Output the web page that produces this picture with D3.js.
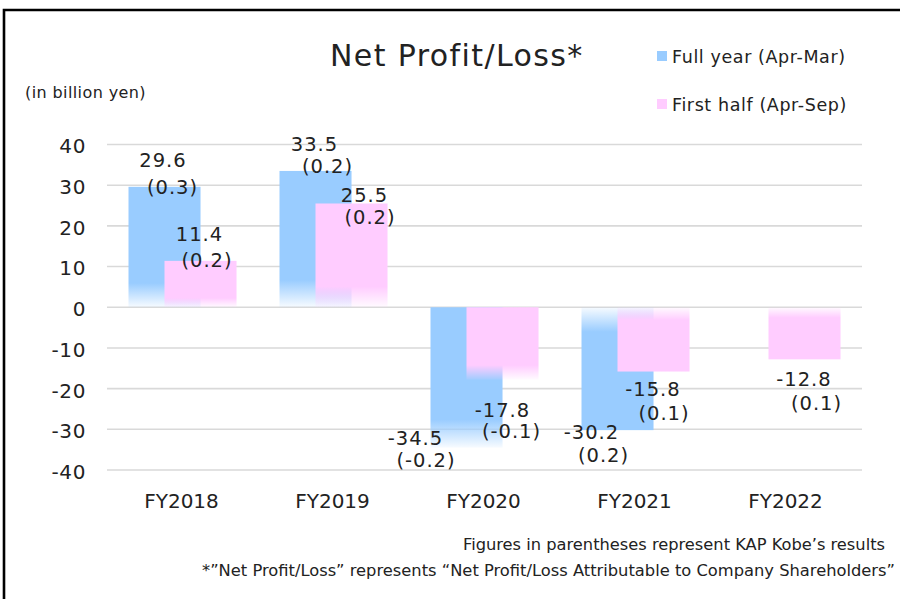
<!DOCTYPE html>
<html>
<head>
<meta charset="utf-8">
<script src="https://cdn.jsdelivr.net/npm/d3@7"></script>
<style>
  html, body { margin: 0; padding: 0; background: #fff; }
  svg { display: block; }
  text { font-family: "DejaVu Sans", Verdana, sans-serif; fill: #222; }
</style>
</head>
<body>
<svg id="chart" width="900" height="599"></svg>
<script>
// ---- data ----
const categories = ["FY2018", "FY2019", "FY2020", "FY2021", "FY2022"];
const fullYear = [29.6, 33.5, -34.5, -30.2, null];
const firstHalf = [11.4, 25.5, -17.8, -15.8, -12.8];
const fullYearKobe = [0.3, 0.2, -0.2, 0.2, null];
const firstHalfKobe = [0.2, 0.2, -0.1, 0.1, 0.1];
const yTicks = [-40, -30, -20, -10, 0, 10, 20, 30, 40];
const seriesNames = ["Full year (Apr-Mar)", "First half (Apr-Sep)"];

// ---- styling / layout (kept separate from data) ----
const colors = ["#99CCFF", "#FFCCFF"];
const fadeSide = ["bottom", "bottom", "bottom", "top", "top"];
// manual label nudges: [dx1, dy1, dx2, dy2] relative to bar centre / bar end (px)
const labelNudgeFull = [[-1.5, -20, 8, 7], [-1, -20, 12, 2], [-51, -3, -40.5, 19.5], [-26, 9, -14, 31.5], null];
const labelNudgeHalf = [[-1, -20, 6.5, 6], [13, -1, 18.5, 20.5], [0, 37, 9, 58], [-0.5, 24.5, 10.5, 48.5], [-0.5, 27, 12, 51]];

const svg = d3.select("#chart");

// frame
svg.append("path")
  .attr("d", "M4,599 V10 H900")
  .attr("fill", "none").attr("stroke", "#000").attr("stroke-width", 2.6);

const x = d3.scaleBand().domain(categories).range([106, 861]).padding(0);
const y = d3.scaleLinear().domain([-40, 40]).range([470, 144.5]);

// gridlines
svg.append("g").selectAll("line").data(yTicks).join("line")
  .attr("x1", 107).attr("x2", 862)
  .attr("y1", d => y(d)).attr("y2", d => y(d))
  .attr("stroke", "#d9d9d9").attr("stroke-width", 1.6);

// y tick labels
const yAxis = d3.axisLeft(y).tickValues(yTicks).tickSize(0).tickPadding(0)
  .tickFormat(d => String(d));
const gy = svg.append("g").attr("transform", "translate(86,0)").call(yAxis);
gy.select(".domain").remove();
gy.selectAll("text")
  .attr("font-family", "DejaVu Sans").attr("font-size", 20).attr("fill", "#222")
  .attr("letter-spacing", 0.6)
  .attr("dy", "0.42em").attr("x", 0);

// x labels
const xAxis = d3.axisBottom(x).tickSize(0).tickPadding(0);
const gx = svg.append("g").attr("transform", "translate(0,493)").call(xAxis);
gx.select(".domain").remove();
gx.selectAll("text")
  .attr("font-family", "DejaVu Sans").attr("font-size", 20).attr("fill", "#222")
  .attr("dy", "0.75em").attr("y", 0);

// gradients
const defs = svg.append("defs");
function makeGrad(id, color, side) {
  const g = defs.append("linearGradient").attr("id", id)
    .attr("x1", 0).attr("x2", 0)
    .attr("y1", side === "bottom" ? 0 : 1).attr("y2", side === "bottom" ? 1 : 0);
  g.append("stop").attr("offset", 0).attr("stop-color", color).attr("stop-opacity", 1);
  g.append("stop").attr("offset", 0.8).attr("stop-color", color).attr("stop-opacity", 1);
  g.append("stop").attr("offset", 1).attr("stop-color", color).attr("stop-opacity", 0.08);
}

const barW = x.bandwidth() * 0.477;
const offsets = [-53, -17];
const seriesVals = [fullYear, firstHalf];
const seriesKobe = [fullYearKobe, firstHalfKobe];
const nudges = [labelNudgeFull, labelNudgeHalf];

seriesVals.forEach((vals, s) => {
  const items = categories.map((c, i) => ({ c, i, v: vals[i], k: seriesKobe[s][i] }))
    .filter(d => d.v !== null);
  items.forEach(d => makeGrad(`g${s}_${d.i}`, colors[s], fadeSide[d.i]));
  const g = svg.append("g");
  g.selectAll("rect").data(items).join("rect")
    .attr("x", d => x(d.c) + x.bandwidth() / 2 + offsets[s])
    .attr("width", barW)
    .attr("y", d => y(Math.max(0, d.v)))
    .attr("height", d => Math.abs(y(d.v) - y(0)))
    .attr("fill", d => `url(#g${s}_${d.i})`);
});

// labels (drawn after both series)
seriesVals.forEach((vals, s) => {
  categories.forEach((c, i) => {
    const v = vals[i];
    if (v === null) return;
    const bc = x(c) + x.bandwidth() / 2 + offsets[s] + barW / 2;
    const be = y(v);
    const n = nudges[s][i];
    const k = seriesKobe[s][i];
    const lbl = svg.append("g").attr("font-size", 19.5).attr("letter-spacing", 1);
    lbl.append("text").attr("text-anchor", "middle")
      .attr("x", bc + n[0]).attr("y", be + n[1]).text(v.toFixed(1));
    lbl.append("text").attr("text-anchor", "middle")
      .attr("x", bc + n[2]).attr("y", be + n[3]).text(`(${k.toFixed(1)})`);
  });
});

// title
svg.append("text").attr("x", 330).attr("y", 66)
  .attr("font-size", 30).attr("letter-spacing", 1.4).attr("fill", "#111")
  .text("Net Profit/Loss*");

// unit
svg.append("text").attr("x", 25).attr("y", 98)
  .attr("font-size", 16).attr("letter-spacing", 0.4)
  .text("(in billion yen)");

// legend
const legendY = [56, 104];
seriesNames.forEach((name, s) => {
  svg.append("rect").attr("x", 657).attr("y", legendY[s] - 5).attr("width", 10).attr("height", 10)
    .attr("fill", colors[s]);
  svg.append("text").attr("x", 672).attr("y", legendY[s] + 7)
    .attr("font-size", 17.5).attr("letter-spacing", 0.6)
    .text(name);
});

// footnotes
svg.append("text").attr("x", 463).attr("y", 550)
  .attr("font-family", "Noto Sans").attr("font-size", 15.5)
  .attr("textLength", 422).attr("lengthAdjust", "spacingAndGlyphs")
  .text("Figures in parentheses represent KAP Kobe’s results");
svg.append("text").attr("x", 202).attr("y", 576)
  .attr("font-family", "Noto Sans").attr("font-size", 15.5)
  .attr("textLength", 693).attr("lengthAdjust", "spacingAndGlyphs")
  .text("*”Net Profit/Loss” represents “Net Profit/Loss Attributable to Company Shareholders”");
</script>
</body>
</html>
